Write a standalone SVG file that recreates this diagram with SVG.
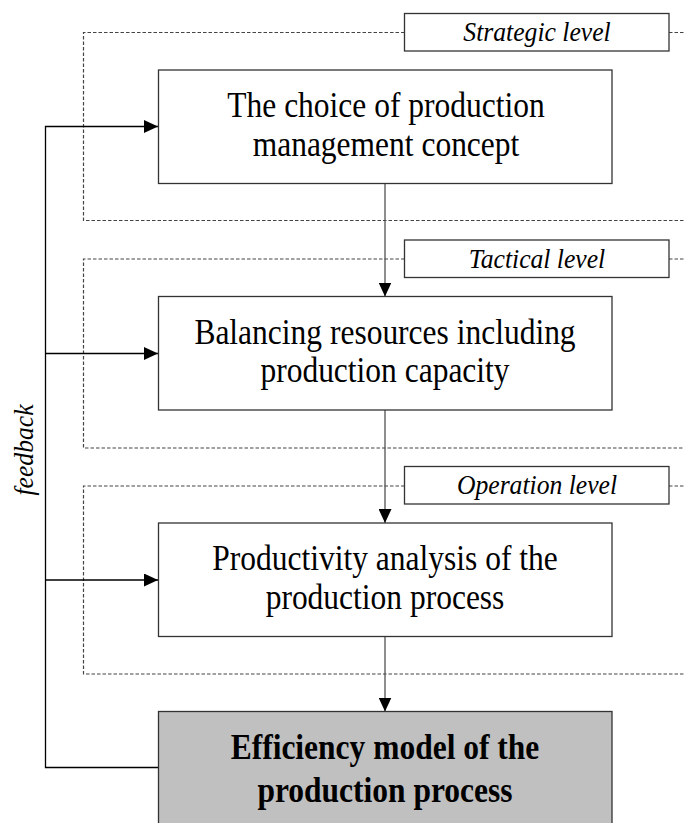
<svg xmlns="http://www.w3.org/2000/svg" width="684" height="823" viewBox="0 0 684 823">
<defs>
<marker id="arr" markerUnits="userSpaceOnUse" markerWidth="14" markerHeight="13" refX="14" refY="6.5" orient="auto">
<path d="M0,0 L14,6.5 L0,13 Z" fill="#000"/>
</marker>
<style>
.box{fill:#fff;stroke:#333;stroke-width:1.3}
.gbox{fill:#c0c0c0;stroke:#333;stroke-width:1.3}
.lbl{fill:#fff;stroke:#333;stroke-width:1.3}
.dash{fill:none;stroke:#444;stroke-width:1.2;stroke-dasharray:3.5,2}
.con{fill:none;stroke:#444;stroke-width:1.2}
.fb{fill:none;stroke:#000;stroke-width:1.3}
.t{font-family:"Liberation Serif","Times New Roman",serif;font-size:35px;fill:#000;text-anchor:middle}
.tb{font-family:"Liberation Serif","Times New Roman",serif;font-size:35px;font-weight:bold;fill:#000;text-anchor:middle}
.ti{font-family:"Liberation Serif","Times New Roman",serif;font-size:27px;font-style:italic;fill:#000;text-anchor:middle}
</style>
</defs>
<g id="levels">
<path class="dash" d="M404.5,32.5 H83.5 V220.5 H684 M669,32.5 H684"/>
<path class="dash" d="M404.5,259 H83.5 V448 H684 M669,259 H684"/>
<path class="dash" d="M404.5,486 H83.5 V674 H684 M669,486 H684"/>
</g>
<g id="connectors">
<path class="con" d="M385,183.5 V296.5" marker-end="url(#arr)"/>
<path class="con" d="M385,410 V523" marker-end="url(#arr)"/>
<path class="con" d="M385,637 V711.5" marker-end="url(#arr)"/>
<path class="fb" d="M158,767.5 H45.5 V126.5 H158" marker-end="url(#arr)"/>
<path class="fb" d="M45.5,353.5 H158" marker-end="url(#arr)"/>
<path class="fb" d="M45.5,580 H158" marker-end="url(#arr)"/>
<text class="ti" transform="translate(33,450) rotate(-90) scale(0.95,1.05)" font-size="28">feedback</text>
</g>
<g id="label-strategic">
<rect class="lbl" x="404.5" y="13.5" width="264.5" height="37.5"/>
<text class="ti" transform="translate(537,41) scale(0.95,1.05)">Strategic level</text>
</g>
<g id="label-tactical">
<rect class="lbl" x="404.5" y="240" width="264.5" height="37.5"/>
<text class="ti" transform="translate(537,267.5) scale(0.95,1.05)">Tactical level</text>
</g>
<g id="label-operation">
<rect class="lbl" x="404.5" y="466.5" width="264.5" height="37.5"/>
<text class="ti" transform="translate(537,494) scale(0.95,1.05)">Operation level</text>
</g>
<g id="node-concept">
<rect class="box" x="158.5" y="70" width="453.5" height="113.5"/>
<text class="t" transform="translate(386,117) scale(0.9,1)">The choice of production</text>
<text class="t" transform="translate(386,156) scale(0.9,1)">management concept</text>
</g>
<g id="node-balancing">
<rect class="box" x="158.5" y="296.5" width="453.5" height="113.5"/>
<text class="t" transform="translate(385,343.5) scale(0.9,1)">Balancing resources including</text>
<text class="t" transform="translate(385,382) scale(0.9,1)">production capacity</text>
</g>
<g id="node-productivity">
<rect class="box" x="158.5" y="523" width="453.5" height="113.5"/>
<text class="t" transform="translate(385,570) scale(0.9,1)">Productivity analysis of the</text>
<text class="t" transform="translate(385,608.5) scale(0.9,1)">production process</text>
</g>
<g id="node-efficiency">
<rect class="gbox" x="158.5" y="711.5" width="453.5" height="120"/>
<text class="tb" transform="translate(385,758.5) scale(0.9,1)">Efficiency model of the</text>
<text class="tb" transform="translate(385,802) scale(0.9,1)">production process</text>
</g>
</svg>
